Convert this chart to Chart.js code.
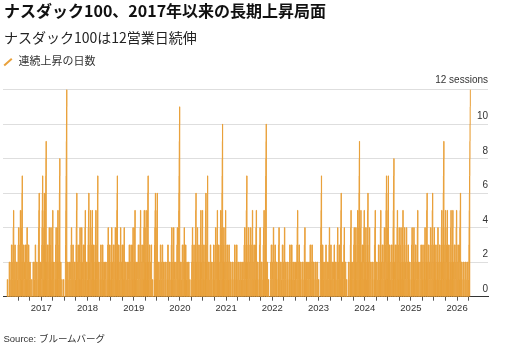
<!DOCTYPE html>
<html><head><meta charset="utf-8">
<script src="https://cdn.jsdelivr.net/npm/chart.js@4.4.1/dist/chart.umd.min.js"></script>
<style>
html,body{margin:0;padding:0;background:#fff;}
#wrap{position:relative;width:510px;height:354px;overflow:hidden;background:#fff;}
#c{position:absolute;left:0;top:0;}
.t{position:absolute;white-space:nowrap;font-family:'Noto Sans CJK JP',sans-serif;}
</style></head><body>
<div id="wrap">
<canvas id="c" width="510" height="354"></canvas>
<div class="t" style="left:4px;top:2px;font-size:16px;line-height:16px;font-weight:700;color:#111;">ナスダック100、2017年以来の長期上昇局面</div>
<div class="t" style="left:4px;top:29.5px;font-size:14px;line-height:14px;color:#222;">ナスダック100は12営業日続伸</div>
<svg style="position:absolute;left:3px;top:57px;" width="11" height="10"><line x1="1.2" y1="8.6" x2="8.8" y2="1.8" stroke="#E9A13B" stroke-width="2" stroke-linecap="butt"/></svg>
<div class="t" style="left:18.5px;top:55.3px;font-size:11px;line-height:11px;color:#333;">連続上昇の日数</div>
<div class="t" style="left:3.5px;top:334.3px;font-size:9.5px;line-height:9.5px;color:#333;font-family:'Liberation Sans',Arial,'Noto Sans CJK JP',sans-serif;">Source: ブルームバーグ</div>
</div>
<script>
// Consecutive up-day streak lengths (peak of each streak), per year
const streaks2016 = [1,2,3,5,3,2,4,5,7,3,3,4,3,2,1,2,3,2,6,2];
const streaks2017 = [7,6,9,3,4,4,5,2,4,5,8,2,1,1,12,2,2,4,3,2,6,3,4,4,3,5,2];
const streaks2018 = [6,5,5,3,5,7,2,3,3,2,2,4,3,4,3,4,7,3,4,3,4,2,2,3,3,4];
const streaks2019 = [5,2,3,5,3,5,5,7,3,3,1,6,6,2,3,3,2,2,3,2,4,4,2,4,11];
const streaks2020 = [2,3,4,3,2,2,1,4,3,6,4,3,5,5,3,6,7,2,3,2,3,4,5,3,5,10,4,5];
const streaks2021 = [3,3,2,2,3,3,2,2,2,4,7,4,4,5,3,5,2,4,2,5,10,2,1,3];
const streaks2022 = [4,3,2,4,2,3,4,2,2,3,3,2,2,5,3,2,2,4,2,2,3,3,2,2,2];
const streaks2023 = [1,7,3,2,3,2,4,3,2,3,2,4,3,6,2,4,2,1,2,5,2,4,4,5,9,5,3,5];
const streaks2024 = [4,6,4,2,2,5,2,3,5,3,4,7,7,3,3,8,3,5,4,4,5,4,4,3,2];
const streaks2025 = [4,4,3,5,2,3,3,4,6,3,4,6,4,3,4,3,5,9,5,5,3,5,5,3,5];
const streaks2026 = [3,6,2,2,2,2,12];

const years = [2016,2017,2018,2019,2020,2021,2022,2023,2024,2025,2026];
const yearLabels = ['2017','2018','2019','2020','2021','2022','2023','2024','2025','2026'];
const yTickValues = [0,2,4,6,8,10,12];
const yTickLabels = ['0','2','4','6','8','10','12 sessions'];
const dataStart = 2016.264, dataEnd = 2026.29;
const oneDay = 1 / 252;

const allStreaks = [streaks2016,streaks2017,streaks2018,streaks2019,streaks2020,streaks2021,
  streaks2022,streaks2023,streaks2024,streaks2025,streaks2026];

const points = [];
allStreaks.forEach((runs, i) => {
  const from = i === 0 ? dataStart : years[i];
  const to = i === allStreaks.length - 1 ? dataEnd : years[i] + 1;
  const w = (to - from) / runs.length;
  runs.forEach((n, k) => {
    const s = from + k * w;
    const last = (i === allStreaks.length - 1 && k === runs.length - 1);
    const z = Math.min(oneDay, w / (n + 1));          // width of the down day
    const steps = last ? n - 1 : n;
    points.push({x: s, y: 0});
    for (let j = 1; j <= n; j++) {
      const x = steps > 0 ? s + z + (w - z) * (j - 1) / steps : s + z;
      points.push({x, y: j});
    }
  });
});

const ORANGE = '#E9A13B';
const yLabelPlugin = {
  id: 'yLabels',
  afterDraw(chart) {
    const {ctx, chartArea, scales: {y}} = chart;
    ctx.save();
    ctx.font = '10px "Liberation Sans", Arial, sans-serif';
    ctx.fillStyle = '#333';
    ctx.textAlign = 'right';
    ctx.textBaseline = 'alphabetic';
    yTickValues.forEach((v, i) => {
      const py = y.getPixelForValue(v);
      const off = i === yTickValues.length - 1 ? 7 : 5;
      ctx.fillText(yTickLabels[i], chartArea.right, py - off);
    });
    ctx.restore();
  }
};

new Chart(document.getElementById('c'), {
  type: 'line',
  data: { datasets: [{
    label: '連続上昇の日数',
    data: points,
    borderColor: ORANGE,
    backgroundColor: ORANGE,
    borderWidth: 1,
    borderJoinStyle: 'miter',
    pointRadius: 0,
    fill: 'origin',
    stepped: 'after',
    tension: 0
  }]},
  options: {
    responsive: false,
    animation: false,
    events: [],
    layout: { padding: { left: 3, right: 22, top: 89.5, bottom: 0 } },
    plugins: { legend: { display: false }, title: { display: false }, tooltip: { enabled: false } },
    scales: {
      x: {
        type: 'linear',
        min: 2016.171, max: 2026.669,
        afterFit(s) { s.height = 354 - 296.7; },
        afterBuildTicks(s) {
          const t = [];
          for (let q = 2016.5; q <= 2026.25 + 1e-9; q += 0.25) t.push({value: Math.round(q * 100) / 100});
          s.ticks = t;
        },
        ticks: {
          autoSkip: false, maxRotation: 0, padding: 2,
          color: '#333',
          font: { family: '"Liberation Sans", Arial, sans-serif', size: 9.5 },
          callback(v) {
            const lbl = yearLabels.indexOf(String(v));
            return Number.isInteger(v) && lbl >= 0 ? yearLabels[lbl] : '';
          }
        },
        grid: { drawOnChartArea: false, drawTicks: true, tickLength: 4, color: '#555', lineWidth: 1 },
        border: { display: true, color: '#333', width: 1 }
      },
      y: {
        position: 'right',
        min: 0, max: 12,
        afterFit(s) { s.width = 0; },
        afterBuildTicks(s) { s.ticks = yTickValues.map(v => ({value: v})); },
        ticks: { display: false },
        grid: { color: '#dedede', lineWidth: 1, drawTicks: false },
        border: { display: false }
      }
    }
  },
  plugins: [yLabelPlugin]
});
</script>
</body></html>
